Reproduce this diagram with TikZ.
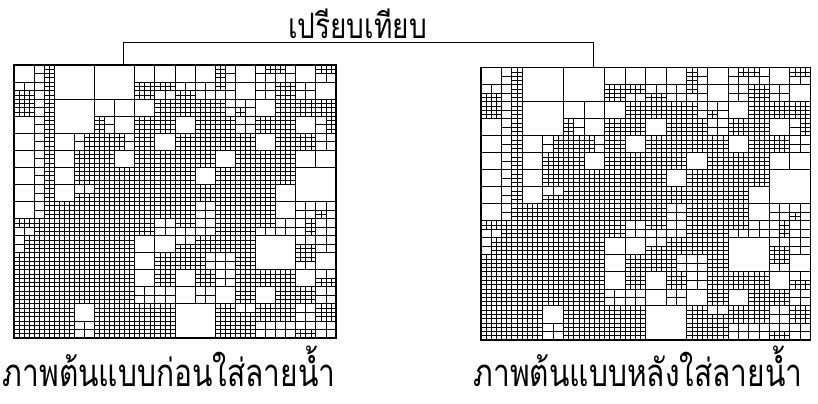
\documentclass[tikz,border=0pt]{standalone}
\usepackage{fontspec}
\newfontfamily\thaifont[Script=Thai]{Loma}
\tikzset{
  blockline/.style={line width=1bp},
  quadline/.style={line width=0.85bp},
  fineline/.style={line width=0.62bp},
  gridframe/.style={draw, line width=1.2bp, inner sep=0pt, outer sep=0pt, anchor=north west},
  bracketline/.style={line width=1.2bp},
  titletext/.style={font=\thaifont\fontsize{26}{28}\selectfont, inner sep=0pt, anchor=base},
  captiontext/.style={font=\thaifont\fontsize{30}{32}\selectfont, inner sep=0pt, anchor=base},
}
\def\qtmap{%
{1,4,0,0,0,0,1,1,1,1,6,1,8,10,1,7},%
{5,4,0,0,0,0,3,7,5,2,10,1,2,3,2,1},%
{3,4,0,0,1,1,1,3,3,3,6,9,1,3,3,3},%
{1,4,0,0,6,1,3,3,1,3,3,2,3,3,1,4},%
{1,4,1,4,3,6,3,1,3,3,3,3,1,3,3,2},%
{1,4,1,3,3,1,3,3,3,3,1,3,3,3,1,1},%
{1,4,1,3,3,3,3,3,3,1,3,3,3,3,0,0},%
{1,4,1,5,3,3,3,3,3,3,3,3,3,1,0,0},%
{1,4,3,3,3,3,3,3,3,2,3,3,3,1,2,9},%
{7,3,3,3,3,3,3,2,7,2,3,3,7,2,4,2},%
{4,3,3,3,3,3,1,1,5,3,3,3,0,0,5,2},%
{3,3,3,3,3,3,1,3,3,6,2,3,0,0,7,1},%
{3,3,3,3,3,3,1,3,1,3,2,3,3,3,1,5},%
{3,3,3,3,3,3,2,2,1,2,1,3,1,3,3,2},%
{3,3,3,1,3,3,3,3,0,0,3,5,3,3,2,3},%
{3,3,3,2,3,3,3,3,0,0,3,3,2,2,5,2}}
\newcommand\drawquadtree{%
  \foreach \k in {2,4,...,14} {\draw[blockline] (\k,0)--(\k,16); \draw[blockline] (0,\k)--(16,\k);}
  \foreach \row [count=\jj from 0] in \qtmap {
    \foreach \v [count=\ii from 0] in \row {
      \pgfmathtruncatemacro\bx{2*floor(\ii/2)}
      \pgfmathtruncatemacro\by{2*floor(\jj/2)}
      \ifnum\v>0\relax \draw[quadline] (\bx,\by+1)--++(2,0) (\bx+1,\by)--++(0,2); \fi
      \ifnum\v>1\relax \draw[quadline] (\ii,\jj+.5)--++(1,0) (\ii+.5,\jj)--++(0,1); \fi
      \ifcase\v\relax
      \or
      \or
      \or % 3 all fine
        \draw[fineline] (\ii+.25,\jj)--++(0,1) (\ii+.75,\jj)--++(0,1) (\ii,\jj+.25)--++(1,0) (\ii,\jj+.75)--++(1,0);
      \or % 4 right column
        \draw[fineline] (\ii+.75,\jj)--++(0,1) (\ii+.5,\jj+.25)--++(.5,0) (\ii+.5,\jj+.75)--++(.5,0);
      \or % 5 bottom row
        \draw[fineline] (\ii,\jj+.75)--++(1,0) (\ii+.25,\jj+.5)--++(0,.5) (\ii+.75,\jj+.5)--++(0,.5);
      \or % 6 left column
        \draw[fineline] (\ii+.25,\jj)--++(0,1) (\ii,\jj+.25)--++(.5,0) (\ii,\jj+.75)--++(.5,0);
      \or % 7 top row
        \draw[fineline] (\ii,\jj+.25)--++(1,0) (\ii+.25,\jj)--++(0,.5) (\ii+.75,\jj)--++(0,.5);
      \or % 8 top right cell
        \draw[fineline] (\ii+.75,\jj)--++(0,.5) (\ii+.5,\jj+.25)--++(.5,0);
      \or % 9 bottom left cell
        \draw[fineline] (\ii+.25,\jj+.5)--++(0,.5) (\ii,\jj+.75)--++(.5,0);
      \or % 10 top left cell
        \draw[fineline] (\ii+.25,\jj)--++(0,.5) (\ii,\jj+.25)--++(.5,0);
      \or % 11 bottom right cell
        \draw[fineline] (\ii+.75,\jj+.5)--++(0,.5) (\ii+.5,\jj+.75)--++(.5,0);
      \fi
    }
  }
}
\begin{document}
\begin{tikzpicture}[x=1bp,y=-1bp]
  \useasboundingbox[fill=white] (0,0) rectangle (818,403);
  % frames of the two pictures
  \node[gridframe, minimum width=322bp, minimum height=273bp] (gridL) at (14,65) {};
  \node[gridframe, minimum width=329.5bp, minimum height=272.3bp] (gridR) at (481,67.7) {};
  \begin{scope}[shift={(gridL.north west)}, x=20.125bp, y=-17.0625bp]
    \drawquadtree
  \end{scope}
  \begin{scope}[shift={(gridR.north west)}, x=20.594bp, y=-17.019bp]
    \drawquadtree
  \end{scope}
  % bracket
  \path (gridL.north west) ++(109.5,0) coordinate (bkL);
  \path (gridR.north west) ++(112.5,0) coordinate (bkR);
  \draw[bracketline] (bkL) -- ++(0,-22.7) coordinate (bkTop) -| (bkR);
  % texts
  \node[titletext] (title) at (357.5,38.5) {\scalebox{1.08}[1.35]{เปรียบเทียบ}};
  \node[captiontext] (capL) at (169,386.5) {\scalebox{1}[1.28]{ภาพต้นแบบก่อนใส่ลายน้ำ}};
  \node[captiontext] (capR) at (638,386.5) {\scalebox{1}[1.28]{ภาพต้นแบบหลังใส่ลายน้ำ}};
\end{tikzpicture}
\end{document}
